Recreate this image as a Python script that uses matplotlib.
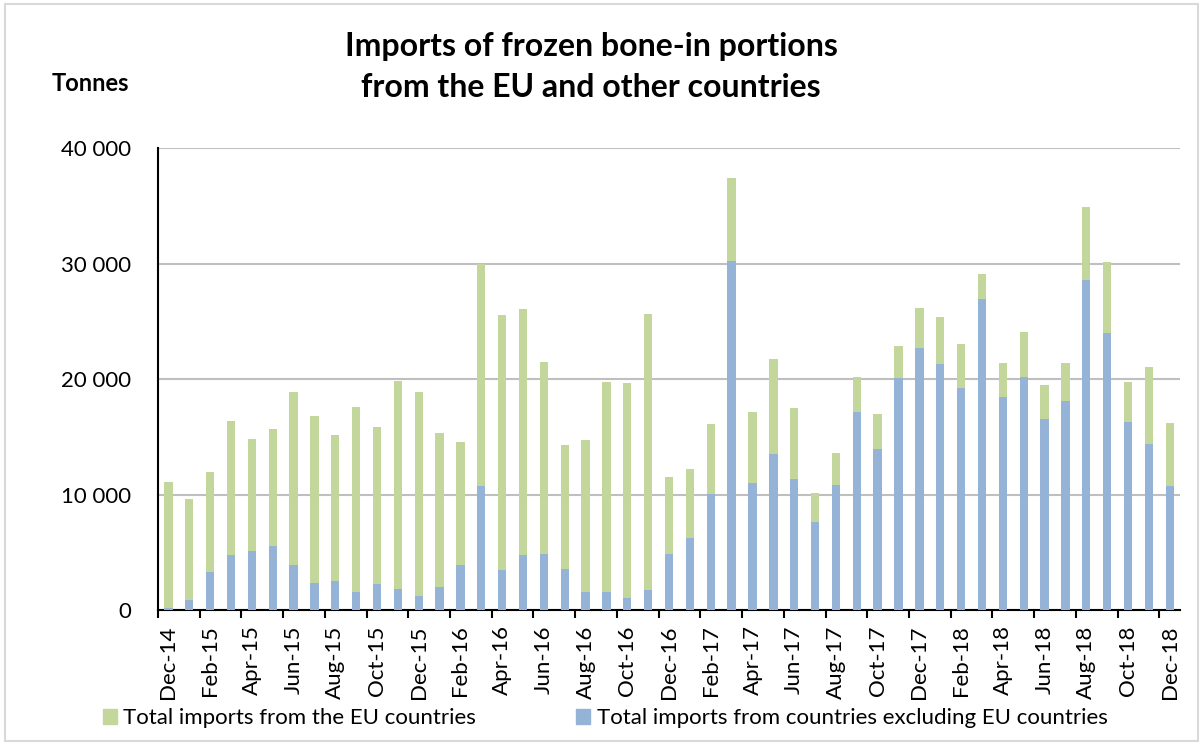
import numpy as np
import matplotlib
matplotlib.use('Agg')
import matplotlib.pyplot as plt
from matplotlib.patches import Rectangle, Patch
from matplotlib.ticker import FuncFormatter

plt.rcParams['font.family'] = ['Lato', 'DejaVu Sans']

months = ['Dec-14', 'Jan-15', 'Feb-15', 'Mar-15', 'Apr-15', 'May-15', 'Jun-15', 'Jul-15',
          'Aug-15', 'Sep-15', 'Oct-15', 'Nov-15', 'Dec-15', 'Jan-16', 'Feb-16', 'Mar-16',
          'Apr-16', 'May-16', 'Jun-16', 'Jul-16', 'Aug-16', 'Sep-16', 'Oct-16', 'Nov-16',
          'Dec-16', 'Jan-17', 'Feb-17', 'Mar-17', 'Apr-17', 'May-17', 'Jun-17', 'Jul-17',
          'Aug-17', 'Sep-17', 'Oct-17', 'Nov-17', 'Dec-17', 'Jan-18', 'Feb-18', 'Mar-18',
          'Apr-18', 'May-18', 'Jun-18', 'Jul-18', 'Aug-18', 'Sep-18', 'Oct-18', 'Nov-18',
          'Dec-18']

# total imports (top of stacked bar)
total = [11050, 9580, 11950, 16390, 14830, 15700, 18870, 16800, 15120, 17570,
         15810, 19850, 18850, 15350, 14540, 29960, 25510, 26060, 21500, 14250,
         14690, 19710, 19650, 25630, 11480, 12180, 16100, 37400, 17140, 21700,
         17460, 10130, 13620, 20170, 17000, 22860, 26170, 25400, 23030, 29060,
         21350, 24100, 19480, 21380, 34890, 30130, 19710, 21060, 16220]

# imports from countries excluding EU
non_eu = [200, 870, 3320, 4790, 5130, 5570, 3920, 2340, 2540, 1590,
          2280, 1820, 1240, 2020, 3920, 10740, 3490, 4730, 4880, 3580,
          1590, 1590, 1070, 1730, 4880, 6200, 10040, 30190, 11020, 13530,
          11340, 7650, 10850, 17140, 13970, 20090, 22710, 21320, 19250, 26950,
          18470, 20200, 16560, 18120, 28540, 24010, 16300, 14370, 10740]

eu = [t - n for t, n in zip(total, non_eu)]

green = '#c3d69b'
blue = '#95b3d7'

fig = plt.figure(figsize=(12.03, 7.45), dpi=100)
ax = fig.add_axes([0.1313, 0.1812, 0.8497, 0.6201])

x = np.arange(len(months))
ax.bar(x, non_eu, width=0.4, color=blue, zorder=3)
ax.bar(x, eu, bottom=non_eu, width=0.4, color=green, zorder=3)

ax.set_xlim(-0.5, len(months) - 0.5)
ax.set_ylim(0, 40000)
ax.set_yticks(np.arange(0, 40001, 10000))
ax.yaxis.set_major_formatter(FuncFormatter(lambda v, p: '{:,.0f}'.format(v).replace(',', ' ')))
ax.tick_params(axis='y', length=0, labelsize=16, pad=19)
ax.yaxis.grid(True, color='#bfbfbf', linewidth=1.5, zorder=0)

ax.set_xticks(np.arange(-0.5, len(months), 2))
ax.set_xticklabels([])
ax.tick_params(axis='x', which='major', length=6, width=1.5, direction='out')
ax.set_xticks(x[::2], minor=True)
ax.set_xticklabels(months[::2], minor=True, rotation=90, fontsize=16)
ax.tick_params(axis='x', which='minor', length=0, pad=11)

for s in ['top', 'right']:
    ax.spines[s].set_visible(False)
ax.spines['left'].set_linewidth(1.5)
ax.spines['bottom'].set_linewidth(1.5)

fig.text(0.4913, 0.937, 'Imports of frozen bone-in portions', ha='center', va='center',
         fontsize=23, fontweight='bold')
fig.text(0.4913, 0.882, 'from the EU and other countries', ha='center', va='center',
         fontsize=23, fontweight='bold')
fig.text(0.075, 0.888, 'Tonnes', ha='center', va='center', fontsize=17, fontweight='bold')

handles = [Patch(color=green), Patch(color=blue)]
fig.legend(handles, ['Total imports from the EU countries',
                     'Total imports from countries excluding EU countries'],
           loc='center', bbox_to_anchor=(0.503, 0.036), ncol=2, frameon=False,
           fontsize=16, handlelength=0.63, handleheight=0.63, handletextpad=0.3,
           columnspacing=4.5)

fig.patches.append(Rectangle((0.004, 0.005), 0.992, 0.99, transform=fig.transFigure,
                             fill=False, edgecolor='#d9d9d9', linewidth=1.5))

plt.savefig('out.png', dpi=100)
